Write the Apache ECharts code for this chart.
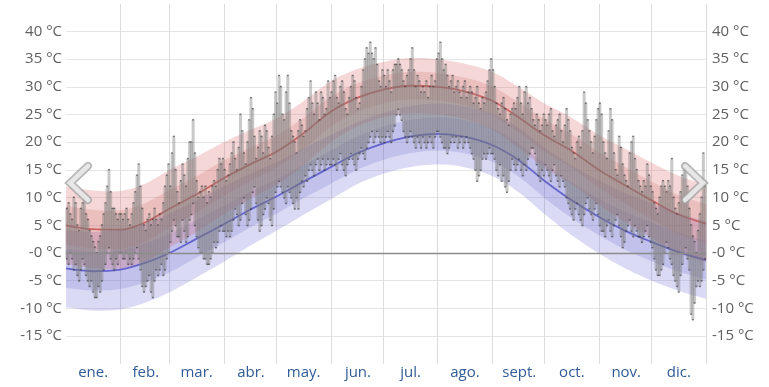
<!DOCTYPE html>
<html><head><meta charset="utf-8">
<script src="https://cdn.jsdelivr.net/npm/echarts@6/dist/echarts.min.js"></script>
<style>html,body{margin:0;padding:0;background:#fff}#c{width:769px;height:387px}</style>
</head><body><div id="c"></div>
<script>
const months = ['ene.','feb.','mar.','abr.','may.','jun.','jul.','ago.','sept.','oct.','nov.','dic.'];
const monthDays = [31,28,31,30,31,30,31,31,30,31,30,31];
const yTicks = [-15,-10,-5,0,5,10,15,20,25,30,35,40];

// smoothed climatology, sampled at these days of year
const bandDays = [0,15,31,45,59,74,90,105,120,135,151,166,181,196,212,227,243,258,273,288,304,319,334,349,365];
const avgHigh = [5.0,4.3,4.2,5.5,8.0,10.5,13.5,16.0,18.3,21.5,25.5,28.0,29.5,30.2,30.0,29.2,27.5,24.5,21.2,18.5,15.0,12.2,9.5,7.0,5.3];
const high90 = [12.0,11.3,11.2,12.5,15.0,17.3,20.0,22.2,24.3,27.3,31.0,33.2,34.5,35.2,35.0,34.2,32.7,30.0,27.0,24.5,21.3,18.8,16.3,14.0,12.3];
const high75 = [8.5,7.8,7.7,9.0,11.4,13.8,16.7,19.0,21.2,24.3,28.2,30.6,32.0,32.7,32.5,31.7,30.1,27.2,24.1,21.5,18.2,15.5,12.9,10.5,8.8];
const high25 = [1.5,0.8,0.7,2.0,4.6,7.2,10.3,13.0,15.4,18.7,22.8,25.4,27.0,27.7,27.5,26.7,24.9,21.8,18.3,15.5,11.8,8.9,6.1,3.5,1.8];
const high10 = [-2.0,-2.7,-2.8,-1.5,1.0,3.7,7.0,9.8,12.3,15.7,20.0,22.8,24.5,25.2,25.0,24.2,22.3,19.0,15.4,12.5,8.7,5.6,2.7,0.0,-1.7];
const avgLow = [-2.8,-3.3,-3.0,-1.8,0.0,2.5,5.2,7.8,10.2,12.8,15.5,18.0,19.8,21.0,21.5,21.0,19.5,16.8,13.0,9.6,6.5,4.0,2.0,0.2,-1.3];
const low90 = [4.2,3.8,4.2,5.4,7.1,9.5,12.0,14.3,16.4,18.8,21.3,23.6,25.3,26.5,27.0,26.5,25.1,22.6,19.0,15.9,13.1,10.8,9.0,7.2,5.7];
const low75 = [0.7,0.2,0.5,1.7,3.5,5.9,8.5,11.0,13.3,15.8,18.5,21.0,22.8,24.0,24.5,24.0,22.5,19.8,16.1,12.8,9.8,7.4,5.5,3.7,2.2];
const low25 = [-6.3,-6.8,-6.5,-5.3,-3.5,-0.9,1.9,4.6,7.1,9.8,12.5,15.0,16.8,18.0,18.5,18.0,16.5,13.8,9.9,6.4,3.2,0.6,-1.5,-3.3,-4.8];
const low10 = [-9.8,-10.4,-10.2,-9.0,-7.1,-4.5,-1.6,1.3,4.0,6.8,9.7,12.4,14.3,15.5,16.0,15.5,13.9,11.0,7.0,3.3,-0.1,-2.8,-5.0,-6.8,-8.3];

// daily observed highs and lows, month by month
const dailyHigh = [
  8,9,7,6,10,9,5,4,8,9,10,7,6,4,3,2,1,0,2,3,5,7,9,12,15,11,8,8,7,6,7,
  7,6,7,8,6,5,7,9,11,14,16,12,8,5,4,6,7,5,6,8,6,5,7,6,9,12,14,16,
  12,18,21,15,11,9,13,16,14,12,17,20,20,24,18,13,10,11,12,10,12,9,11,10,12,13,12,15,17,16,17,
  15,13,14,16,18,20,17,15,19,25,22,18,16,20,24,28,26,21,17,19,22,21,18,23,22,19,17,21,25,29,
  27,32,30,25,24,29,32,27,22,21,20,18,22,24,23,21,22,26,28,31,27,25,29,27,24,29,28,25,26,31,28,
  29,31,32,28,27,30,31,29,26,25,28,30,32,31,28,26,27,30,33,35,37,36,38,36,35,37,34,31,30,33,
  32,30,33,31,29,33,34,34,35,34,33,31,30,32,33,35,37,33,30,32,31,29,30,29,31,28,30,32,30,31,35,
  36,38,35,33,34,32,30,31,32,29,30,31,29,28,30,31,28,29,30,29,27,28,30,27,26,28,27,29,31,33,35,
  33,30,27,26,25,27,28,26,24,23,25,26,27,26,28,30,27,25,29,30,27,28,26,24,23,25,24,22,23,25,
  24,23,25,26,22,21,23,24,25,22,20,23,26,24,22,19,18,17,20,21,19,22,29,27,24,22,20,18,21,24,26,
  27,25,20,18,17,22,26,24,18,15,14,21,19,16,14,13,12,18,20,21,17,15,13,12,11,13,12,16,14,12,
  11,9,8,7,10,12,13,12,11,13,12,17,10,8,7,9,11,14,16,15,12,8,5,3,2,0,4,7,10,18,12
];
const dailyLow = [
  -1,-2,0,-1,-3,-2,-4,-5,-3,-1,-2,-4,-5,-6,-5,-7,-8,-8,-6,-7,-5,-3,-2,0,1,-1,-2,-3,-1,-2,0,
  0,-1,-1,0,-2,-1,-2,-1,0,1,-1,-3,-6,-7,-6,-5,-4,-7,-8,-5,-3,-4,-3,-2,-4,-3,-1,0,
  2,4,6,5,3,3,2,6,4,2,3,6,7,9,5,3,1,0,0,-1,-1,-2,-2,-1,0,2,1,2,4,5,4,
  4,3,4,3,4,6,8,7,5,6,9,10,7,5,6,8,11,12,9,6,4,5,7,8,10,9,6,5,8,11,
  12,13,12,11,10,9,12,11,10,9,8,10,8,11,13,12,14,13,15,16,15,14,16,17,15,16,17,15,16,17,16,
  16,17,16,15,17,18,16,15,14,16,17,18,17,16,15,17,18,19,18,17,19,20,21,22,20,21,22,21,20,21,
  20,21,22,21,20,22,23,25,26,25,24,22,21,20,21,22,21,20,19,21,20,19,21,20,19,20,21,20,19,21,22,
  22,21,20,19,19,18,19,20,21,20,21,19,20,21,19,20,21,20,19,18,17,15,13,14,15,17,18,17,18,19,18,
  18,17,15,14,16,13,14,12,11,13,15,17,16,15,16,17,15,14,16,15,17,18,19,19,18,16,14,13,15,14,
  16,15,14,13,15,16,14,13,12,14,13,12,10,9,8,7,6,8,9,7,6,5,7,9,10,8,7,6,8,9,7,
  5,4,4,3,5,6,4,3,5,6,7,5,3,1,2,4,5,6,4,3,5,4,3,3,2,3,4,5,3,2,
  1,-1,-3,-4,-4,-3,-2,0,2,1,-1,-2,-4,-5,-6,-7,-4,-2,0,1,-1,-3,-11,-12,-9,-6,-5,-6,-5,-3,-1
];

// ---- build options ----
const monthStart = []; const monthMid = []; const dayMonth = [];
let acc = 0;
monthDays.forEach((n, m) => { monthStart.push(acc); monthMid.push(acc + Math.floor(n / 2)); for (let k = 0; k < n; k++) dayMonth.push(m); acc += n; });
const dayCats = dayMonth.map((m, i) => String(i));
const pairs = arr => bandDays.map((d, i) => [d, arr[i]]);

// Catmull-Rom through projected pixel points (rendering only)
function spline(pts, seg) {
  const out = []; const n = pts.length;
  for (let i = 0; i < n - 1; i++) {
    const p0 = pts[Math.max(i - 1, 0)], p1 = pts[i], p2 = pts[i + 1], p3 = pts[Math.min(i + 2, n - 1)];
    for (let s = 0; s < seg; s++) {
      const t = s / seg, t2 = t * t, t3 = t2 * t;
      const f = (a, b, c, d) => 0.5 * ((2 * b) + (-a + c) * t + (2 * a - 5 * b + 4 * c - d) * t2 + (-a + 3 * b - 3 * c + d) * t3);
      out.push([f(p0[0], p1[0], p2[0], p3[0]), f(p0[1], p1[1], p2[1], p3[1])]);
    }
  }
  out.push(pts[n - 1]);
  return out;
}

function band(name, lower, upper, color) {
  return { name: name, type: 'custom', xAxisIndex: 0, z: 1, silent: true, clip: true,
    encode: { x: 0, y: [1, 2] },
    data: bandDays.map((d, i) => [d, lower[i], upper[i]]),
    renderItem: (params, api) => {
      if (params.dataIndex !== 0) return null;
      const up = bandDays.map((d, i) => api.coord([d, upper[i]]));
      const lo = bandDays.map((d, i) => api.coord([d, lower[i]]));
      const pts = spline(up, 10).concat(spline(lo, 10).reverse());
      return { type: 'polygon', shape: { points: pts }, style: { fill: color } };
    } };
}

const bars = dailyHigh.map((h, i) => [i + 0.5, dailyLow[i], h]);
const labelFont = { fontFamily: 'Open Sans', fontSize: 15, color: '#5f5f5f' };
const yFmt = v => (v < -15 || v > 40) ? '' : (v === 0 ? '-0 °C' : v + ' °C');

const chart = echarts.init(document.getElementById('c'), null, { renderer: 'canvas' });
chart.setOption({
  animation: false,
  backgroundColor: '#fff',
  grid: { left: 66, right: 63, top: 3.8, bottom: 23.3, containLabel: false },
  xAxis: [
    { type: 'value', min: 0, max: 365, show: false },
    { type: 'category', data: dayCats, boundaryGap: true, position: 'bottom',
      axisLine: { show: false }, axisTick: { show: false },
      splitLine: { show: true, interval: (idx) => monthStart.indexOf(idx) > 0, lineStyle: { color: '#dcdcdc', width: 1 } },
      axisLabel: { interval: (idx) => monthMid.indexOf(idx) >= 0, formatter: (v) => months[dayMonth[+v]],
        fontFamily: 'Open Sans', fontSize: 15, color: '#2f5b98', margin: 2 } }
  ],
  yAxis: [
    { type: 'value', min: -20, max: 45, interval: 5, position: 'left',
      axisLine: { show: false }, axisTick: { show: false },
      splitLine: { show: true, showMinLine: false, showMaxLine: false, lineStyle: { color: '#e6e6e6' } },
      axisLabel: Object.assign({ formatter: yFmt, margin: 4 }, labelFont) },
    { type: 'value', min: -20, max: 45, interval: 5, position: 'right',
      axisLine: { show: false }, axisTick: { show: false }, splitLine: { show: false },
      axisLabel: Object.assign({ formatter: yFmt, margin: 6 }, labelFont) }
  ],
  series: [
    band('lowOuter', low10, low90, 'rgba(100,100,215,0.24)'),
    band('lowInner', low25, low75, 'rgba(85,85,200,0.18)'),
    band('highOuter', high10, high90, 'rgba(215,95,95,0.25)'),
    band('highInner', high25, high75, 'rgba(200,85,85,0.18)'),
    { name: 'avgLow', type: 'line', xAxisIndex: 0, smooth: 0.35, symbol: 'none', silent: true, z: 3,
      lineStyle: { color: 'rgba(85,85,200,0.85)', width: 1.8 }, data: pairs(avgLow) },
    { name: 'avgHigh', type: 'line', xAxisIndex: 0, smooth: 0.35, symbol: 'none', silent: true, z: 3,
      lineStyle: { color: 'rgba(200,85,85,0.85)', width: 1.8 }, data: pairs(avgHigh),
      markLine: { silent: true, symbol: 'none', label: { show: false },
        lineStyle: { color: '#8c8c8c', width: 1.3, type: 'solid' }, data: [{ yAxis: 0 }] } },
    { name: 'daily', type: 'custom', xAxisIndex: 0, z: 4, silent: true,
      encode: { x: 0, y: [1, 2] }, data: bars,
      renderItem: (params, api) => {
        const d = api.value(0);
        const top = api.coord([d, api.value(2)]);
        const bot = api.coord([d, api.value(1)]);
        const w = 3;
        return { type: 'group', children: [
          { type: 'rect', shape: { x: top[0] - w / 2, y: top[1], width: w, height: bot[1] - top[1] },
            style: { fill: 'rgba(120,120,120,0.4)' } },
          { type: 'rect', shape: { x: top[0] - 1, y: top[1] - 1, width: 2, height: 1.4 }, style: { fill: 'rgba(50,50,50,0.65)' } },
          { type: 'rect', shape: { x: bot[0] - 1, y: bot[1] - 0.4, width: 2, height: 1.4 }, style: { fill: 'rgba(50,50,50,0.65)' } }
        ] };
      } }
  ],
  graphic: [
    { type: 'polyline', z: 100, shape: { points: [[88, 166], [70, 183], [88, 200]] },
      style: { stroke: 'rgba(165,165,165,0.8)', lineWidth: 8, fill: null, lineCap: 'round', lineJoin: 'miter' } },
    { type: 'polyline', z: 101, shape: { points: [[88, 166], [70, 183], [88, 200]] },
      style: { stroke: 'rgba(240,240,240,0.85)', lineWidth: 4.5, fill: null, lineCap: 'round', lineJoin: 'miter' } },
    { type: 'polyline', z: 100, shape: { points: [[685, 166], [703, 183], [685, 200]] },
      style: { stroke: 'rgba(165,165,165,0.8)', lineWidth: 8, fill: null, lineCap: 'round', lineJoin: 'miter' } },
    { type: 'polyline', z: 101, shape: { points: [[685, 166], [703, 183], [685, 200]] },
      style: { stroke: 'rgba(240,240,240,0.85)', lineWidth: 4.5, fill: null, lineCap: 'round', lineJoin: 'miter' } }
  ]
});
</script>
</body></html>
